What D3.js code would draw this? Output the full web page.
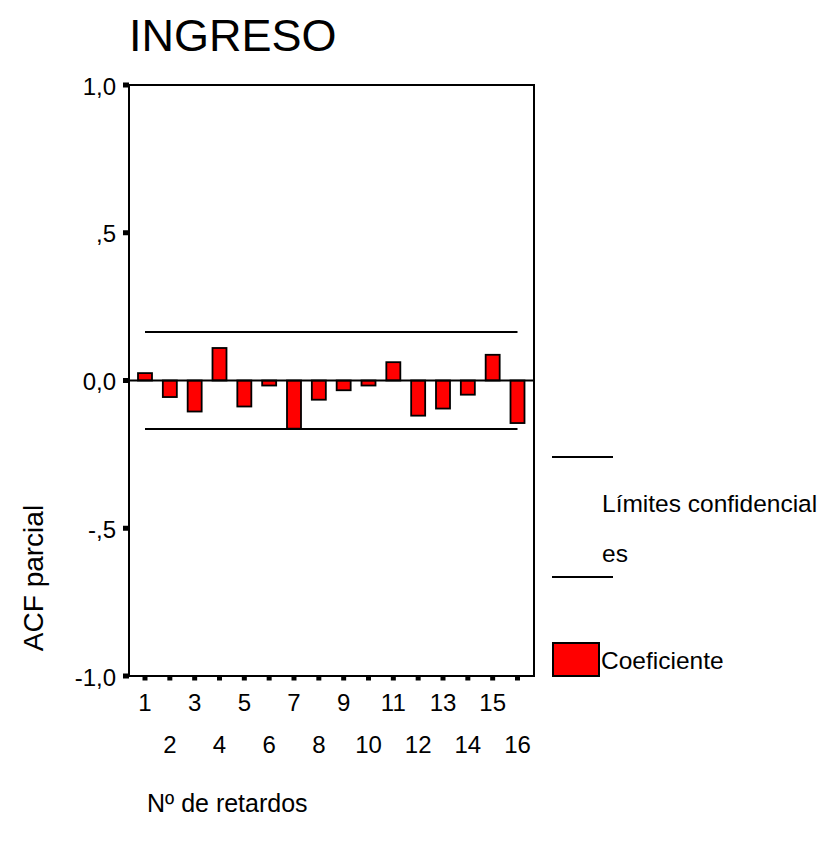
<!DOCTYPE html>
<html>
<head>
<meta charset="utf-8">
<script src="https://cdn.jsdelivr.net/npm/d3@7"></script>
<style>
  html, body { margin: 0; padding: 0; background: #fff; }
  svg { display: block; font-family: "Liberation Sans", Arial, sans-serif; }
</style>
</head>
<body>
<svg id="chart" width="827" height="844"></svg>
<script>
// Partial autocorrelation of INGRESO, lags 1..16
const lags = [1, 2, 3, 4, 5, 6, 7, 8, 9, 10, 11, 12, 13, 14, 15, 16];
const pacf = [0.025, -0.056, -0.105, 0.110, -0.088, -0.017, -0.163, -0.065,
              -0.033, -0.017, 0.062, -0.119, -0.095, -0.048, 0.087, -0.144];
const confLimits = [0.164, -0.164];
const yTickValues = [1, 0.5, 0, -0.5, -1];
const yTickLabels = ["1,0", ",5", "0,0", "-,5", "-1,0"];

const svg = d3.select("#chart");

const frame = { left: 129, right: 534, top: 85, bottom: 676 };

const y = d3.scaleLinear().domain([-1, 1]).range([frame.bottom, frame.top]);
const x = d3.scalePoint().domain(lags).range([145, 517.5]);
const barW = 14;

// Title
svg.append("text")
  .attr("x", 129).attr("y", 51)
  .attr("font-size", 45)
  .text("INGRESO");

// Y axis: labels + square tick marks
const yAxis = svg.append("g");
yAxis.selectAll("text").data(yTickValues).join("text")
  .attr("x", 116)
  .attr("y", d => y(d) + 9.5)
  .attr("text-anchor", "end")
  .attr("font-size", 24)
  .text((d, i) => yTickLabels[i]);
yAxis.selectAll("rect").data(yTickValues).join("rect")
  .attr("x", 123).attr("y", d => y(d) - 2.5)
  .attr("width", 6).attr("height", 5)
  .attr("fill", "#000");

// X axis: square tick marks + staggered labels
const xAxis = svg.append("g");
xAxis.selectAll("rect").data(lags).join("rect")
  .attr("x", d => x(d) - 2.5).attr("y", frame.bottom)
  .attr("width", 5).attr("height", 4.5)
  .attr("fill", "#000");
xAxis.selectAll("text").data(lags).join("text")
  .attr("x", d => x(d))
  .attr("y", d => d % 2 === 1 ? 711 : 753)
  .attr("text-anchor", "middle")
  .attr("font-size", 24)
  .text(d => d);

// Axis titles
svg.append("text")
  .attr("transform", "translate(43,578) rotate(-90)")
  .attr("text-anchor", "middle")
  .attr("font-size", 28)
  .text("ACF parcial");
svg.append("text")
  .attr("x", 147).attr("y", 812)
  .attr("font-size", 25)
  .text("Nº de retardos");

// Bars
svg.append("g").selectAll("rect").data(lags).join("rect")
  .attr("x", (d) => x(d) - barW / 2)
  .attr("y", (d, i) => y(Math.max(0, pacf[i])))
  .attr("width", barW)
  .attr("height", (d, i) => Math.abs(y(pacf[i]) - y(0)))
  .attr("fill", "#ff0000")
  .attr("stroke", "#000")
  .attr("stroke-width", 1.8);

// Confidence limits
svg.append("g").selectAll("line").data(confLimits).join("line")
  .attr("x1", x(1)).attr("x2", x(16))
  .attr("y1", d => y(d)).attr("y2", d => y(d))
  .attr("stroke", "#000").attr("stroke-width", 2);

// Zero reference line
svg.append("line")
  .attr("x1", frame.left).attr("x2", frame.right)
  .attr("y1", y(0)).attr("y2", y(0))
  .attr("stroke", "#000").attr("stroke-width", 2);

// Plot frame
svg.append("rect")
  .attr("x", frame.left).attr("y", frame.top)
  .attr("width", frame.right - frame.left)
  .attr("height", frame.bottom - frame.top)
  .attr("fill", "none")
  .attr("stroke", "#000").attr("stroke-width", 2);

// Legend
const legend = svg.append("g");
legend.selectAll("line").data([457, 577]).join("line")
  .attr("x1", 552).attr("x2", 613)
  .attr("y1", d => d).attr("y2", d => d)
  .attr("stroke", "#000").attr("stroke-width", 2);
legend.append("text").attr("x", 602).attr("y", 512)
  .attr("font-size", 24.5).text("Límites confidencial");
legend.append("text").attr("x", 602).attr("y", 562)
  .attr("font-size", 24.5).text("es");
legend.append("rect")
  .attr("x", 553).attr("y", 643).attr("width", 46).attr("height", 33)
  .attr("fill", "#ff0000").attr("stroke", "#000").attr("stroke-width", 2);
legend.append("text").attr("x", 601).attr("y", 669)
  .attr("font-size", 24.5).text("Coeficiente");
</script>
</body>
</html>
